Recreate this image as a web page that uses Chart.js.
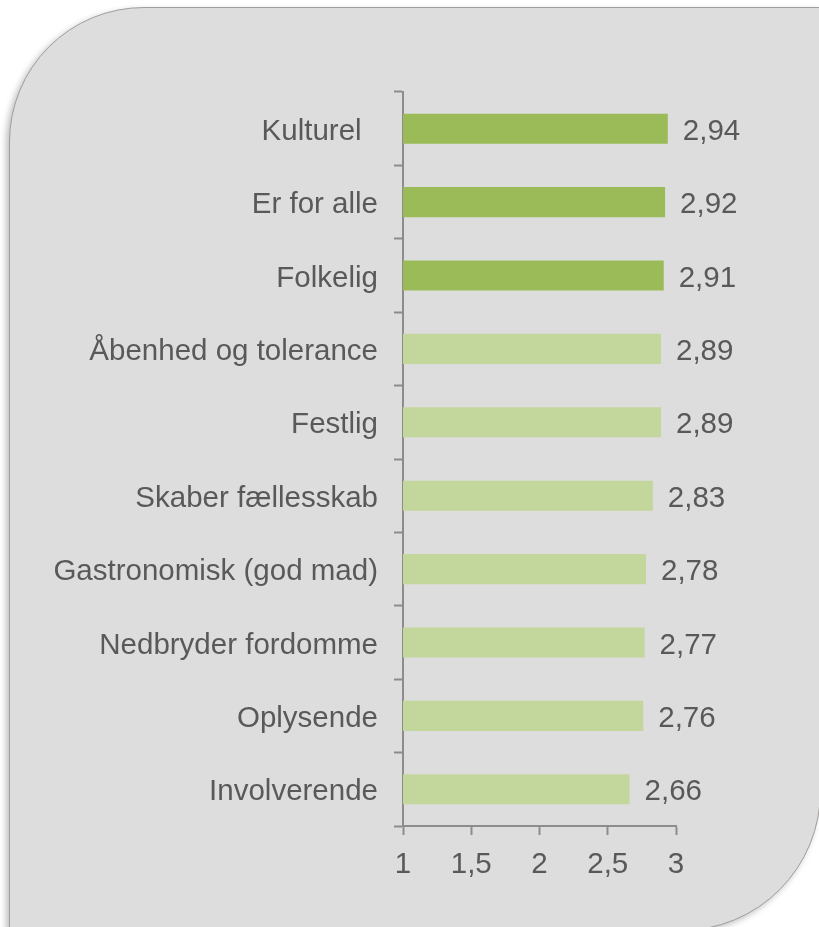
<!DOCTYPE html>
<html>
<head>
<meta charset="utf-8">
<script src="https://cdn.jsdelivr.net/npm/chart.js@4/dist/chart.umd.min.js"></script>
<style>
    body { margin: 0; background: #ffffff; width: 819px; height: 927px; overflow: hidden; position: relative; }
    #panel {
        position: absolute; left: 9px; top: 7px; width: 812px; height: 924px;
        background: #dddddd; border: 1.5px solid #a29d9d; box-sizing: border-box;
        border-radius: 135px 0 140px 0;
        box-shadow: -3px 3px 6px rgba(0, 0, 0, 0.25);
    }
    #wrap { position: absolute; left: 0; top: 0; width: 819px; height: 927px; }
</style>
</head>
<body>
<div id="panel"></div>
<div id="wrap"><canvas id="chart-1" width="819" height="927"></canvas></div>
<script>
const categories = ["Kulturel  ", "Er for alle", "Folkelig", "Åbenhed og tolerance", "Festlig", "Skaber fællesskab", "Gastronomisk (god mad)", "Nedbryder fordomme", "Oplysende", "Involverende"]
const values = [2.94, 2.92, 2.91, 2.89, 2.89, 2.83, 2.78, 2.77, 2.76, 2.66]
const xTicks = [1, 1.5, 2, 2.5, 3]
const highlighted = 3

const dark = "#9bbb59"
const light = "#c3d69b"
const textColor = "#595959"
const axisColor = "#8c8c8c"
const fontFamily = "'Liberation Sans', Arial, sans-serif"
const fontSize = 29.5

const comma = v => String(v).replace(".", ",")

// draws the value to the right of every bar
const valueLabels = {
    id: "valueLabels",
    afterDatasetsDraw(chart) {
        const ctx = chart.ctx
        const meta = chart.getDatasetMeta(0)
        ctx.save()
        ctx.font = `${fontSize}px ${fontFamily}`
        ctx.fillStyle = textColor
        ctx.textAlign = "left"
        ctx.textBaseline = "middle"
        meta.data.forEach((bar, i) => {
            ctx.fillText(comma(values[i]), bar.x + 15, bar.y + 3)
        })
        ctx.restore()
    }
}

const ctx1 = document.getElementById("chart-1")

new Chart(ctx1, {
    type: "bar",
    data: {
        labels: categories,
        datasets: [{
            data: values,
            backgroundColor: values.map((v, i) => i < highlighted ? dark : light),
            borderWidth: 0,
            categoryPercentage: 1,
            barPercentage: 0.41
        }]
    },
    options: {
        indexAxis: "y",
        responsive: false,
        animation: false,
        layout: { padding: { top: 92, right: 143, bottom: 0, left: 0 } },
        plugins: { legend: { display: false }, tooltip: { enabled: false } },
        scales: {
            x: {
                min: 1,
                max: 3,
                afterBuildTicks: scale => { scale.ticks = xTicks.map(v => ({ value: v })) },
                afterFit: scale => { scale.height = 101 },
                border: { color: axisColor, width: 2 },
                grid: { drawOnChartArea: false, tickLength: 9, tickColor: axisColor, tickWidth: 2 },
                ticks: {
                    color: textColor,
                    padding: 12,
                    font: { family: fontFamily, size: fontSize },
                    callback: v => comma(v)
                }
            },
            y: {
                afterFit: scale => { scale.width = 403 },
                border: { color: axisColor, width: 2 },
                grid: { drawOnChartArea: false, tickLength: 9, tickColor: axisColor, tickWidth: 2 },
                ticks: {
                    color: textColor,
                    padding: 16,
                    labelOffset: 3,
                    font: { family: fontFamily, size: fontSize }
                }
            }
        }
    },
    plugins: [valueLabels]
})
</script>
</body>
</html>
